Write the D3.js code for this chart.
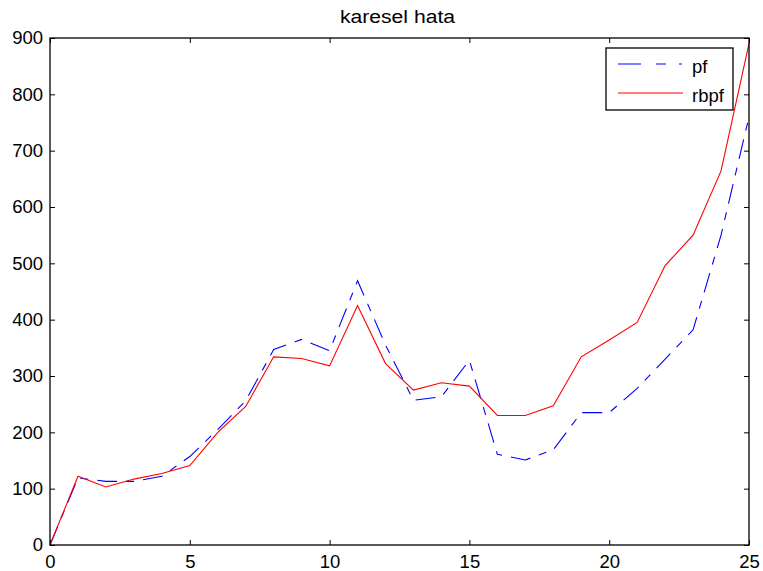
<!DOCTYPE html>
<html>
<meta charset="utf-8">
<script src="https://cdn.jsdelivr.net/npm/d3@7"></script>
<title>karesel hata</title>
<style>
body { margin: 0; background: #fff; }
text { font-family: "Liberation Sans", Arial, sans-serif; fill: #000; }
</style>
<body>
<script type="text/javascript">

// data
var steps = d3.range(0, 26);
var pf = [0, 119, 113, 113, 122, 157, 205, 256, 347, 365, 345, 469, 355, 257, 263, 328,
          161, 151, 169, 235, 235, 278, 330, 382, 550, 760];
var rbpf = [0, 122, 103, 117, 127, 141, 200, 246, 334, 331, 318, 425, 322, 275, 288, 282,
            230, 230, 247, 334, 364, 395, 496, 550, 664, 890];
var xTicks = [0, 5, 10, 15, 20, 25];
var yTicks = d3.range(0, 901, 100);
var seriesNames = ["pf", "rbpf"];

var size = { width: 763, height: 571 };
var margin = { top: 38, right: 14, bottom: 26, left: 50 };
var w = size.width - margin.left - margin.right;
var h = size.height - margin.top - margin.bottom;
var fontSize = "18.5px";

var xScale = d3.scaleLinear().domain([0, 25]).range([0, w]);
var yScale = d3.scaleLinear().domain([0, 900]).range([h, 0]);

var svg = d3.select("body")
    .append("svg")
    .attr("width", size.width)
    .attr("height", size.height);

svg.append("text")
    .attr("x", 340)
    .attr("y", 23)
    .attr("textLength", 115)
    .attr("lengthAdjust", "spacingAndGlyphs")
    .style("font-size", "18px")
    .text("karesel hata");

var g = svg.append("g")
    .attr("transform", "translate(" + margin.left + "," + margin.top + ")");

// axes, ticks pointing inward like matlab
var tickLen = 5;
g.append("g")
    .attr("class", "axisX")
    .attr("transform", "translate(0," + h + ")")
    .call(d3.axisBottom(xScale).tickValues(xTicks).tickSizeInner(-tickLen).tickSizeOuter(0).tickPadding(10));
g.append("g")
    .attr("class", "axisXtop")
    .call(d3.axisTop(xScale).tickValues(xTicks).tickSizeInner(-tickLen).tickSizeOuter(0).tickFormat(""));
g.append("g")
    .attr("class", "axisY")
    .call(d3.axisLeft(yScale).tickValues(yTicks).tickSizeInner(-tickLen).tickSizeOuter(0).tickPadding(7));
g.append("g")
    .attr("class", "axisYright")
    .attr("transform", "translate(" + w + ",0)")
    .call(d3.axisRight(yScale).tickValues(yTicks).tickSizeInner(-tickLen).tickSizeOuter(0).tickFormat(""));

g.selectAll(".domain").remove();
g.selectAll(".tick text")
    .style("font-size", fontSize)
    .style("font-family", "'Liberation Sans', Arial, sans-serif");
g.selectAll(".tick line").attr("stroke", "#000");

var line = d3.line()
    .x(function(d, i) { return xScale(steps[i]); })
    .y(function(d) { return yScale(d); });

g.append("path")
    .datum(pf)
    .attr("d", line)
    .attr("fill", "none")
    .attr("stroke", "#0000ff")
    .attr("stroke-width", 1.1)
    .attr("stroke-dasharray", "20,9,8,9");

g.append("path")
    .datum(rbpf)
    .attr("d", line)
    .attr("fill", "none")
    .attr("stroke", "#ff0000")
    .attr("stroke-width", 1.1);

// frame
g.append("rect")
    .attr("width", w)
    .attr("height", h)
    .attr("fill", "none")
    .attr("stroke", "#000")
    .attr("stroke-width", 1.3);

// legend
var legend = svg.append("g").attr("transform", "translate(606,48)");
legend.append("rect")
    .attr("width", 127)
    .attr("height", 62)
    .attr("fill", "#fff")
    .attr("stroke", "#000")
    .attr("stroke-width", 1.3);
var styles = [
    { color: "#0000ff", dash: "23,15,10,13,3,99" },
    { color: "#ff0000", dash: null }
];
seriesNames.forEach(function(name, i) {
    var y = 16 + i * 29;
    legend.append("line")
        .attr("x1", 12).attr("x2", 77)
        .attr("y1", y).attr("y2", y)
        .attr("stroke", styles[i].color)
        .attr("stroke-width", 1.1)
        .attr("stroke-dasharray", styles[i].dash);
    legend.append("text")
        .attr("x", 86)
        .attr("y", y + 9)
        .style("font-size", fontSize)
        .text(name);
});

</script>
</body>
</html>
